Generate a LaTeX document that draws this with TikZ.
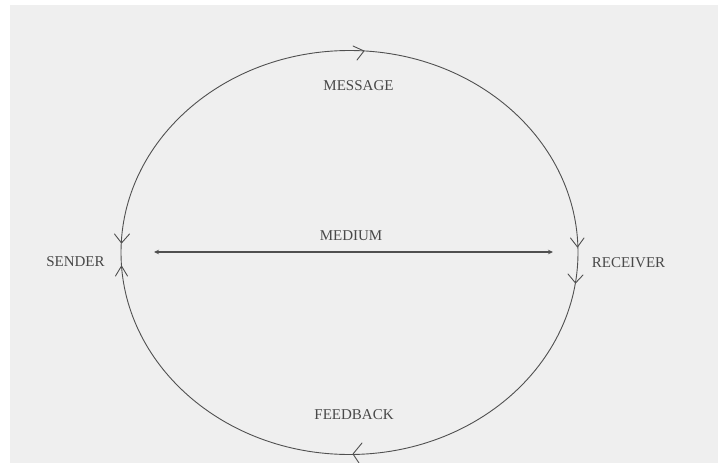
\documentclass[tikz,border=0pt]{standalone}
\usepackage{fontspec}
\setmainfont{Liberation Serif}
\usetikzlibrary{arrows.meta}
\definecolor{paper}{HTML}{EFEFEF}
\definecolor{ink}{HTML}{505050}
\definecolor{txt}{HTML}{484848}
\tikzset{
  ring/.style={draw=ink, line width=0.9pt},
  chevron/.style={draw=ink, line width=0.9pt, line cap=round, line join=round},
  lbl/.style={text=txt, font=\fontsize{15}{17}\selectfont, inner sep=0pt},
  medline/.style={draw=ink, line width=1.6pt, {Stealth[length=5pt,width=4.5pt]}-{Stealth[length=5pt,width=4.5pt]}}
}
\begin{document}
\begin{tikzpicture}[x=1pt,y=-1pt]
\useasboundingbox (0,0) rectangle (718,463);
\fill[white] (0,0) rectangle (718,463);
\fill[paper] (10,5) rectangle (718,463);
% cycle
\coordinate (c) at (349.5,252.5);
\draw[ring] (c) ellipse [x radius=228.5pt, y radius=202pt];
% labels
\node[lbl] (message) at (358.5,86) {MESSAGE};
\node[lbl] (medium) at (351,235.5) {MEDIUM};
\node[lbl] (sender) at (75.5,261.5) {SENDER};
\node[lbl] (receiver) at (628.5,262.5) {RECEIVER};
\node[lbl] (feedback) at (354,415) {FEEDBACK};
% medium arrow
\coordinate (ml) at (154,252);
\coordinate (mr) at (553,252);
\draw[medline] (ml) -- (mr);
% chevrons on the ring
\coordinate (ctop) at (364,51);
\draw[chevron] (353,46) -- (ctop) -- (357,60);
\coordinate (cl1) at (121.5,243);
\draw[chevron] (114.5,234) -- (cl1) -- (129.5,234);
\coordinate (cl2) at (121.5,266);
\draw[chevron] (115.5,276) -- (cl2) -- (127.5,276);
\coordinate (cr1) at (577.5,247);
\draw[chevron] (570.5,238) -- (cr1) -- (584,238);
\coordinate (cr2) at (575.5,283);
\draw[chevron] (568,274) -- (cr2) -- (583,275);
\coordinate (cbot) at (353,454);
\draw[chevron] (362,443) -- (cbot) -- (359,463);
\end{tikzpicture}
\end{document}
